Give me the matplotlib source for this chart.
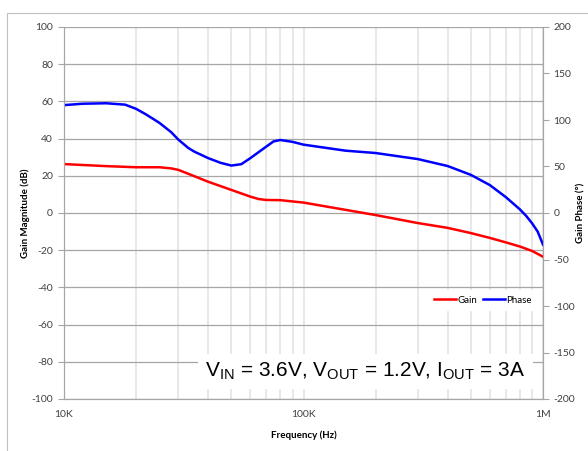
import matplotlib
matplotlib.use("Agg")
import matplotlib.pyplot as plt
import numpy as np
from matplotlib.ticker import FixedLocator, NullFormatter
from matplotlib.patches import Rectangle

plt.rcParams['font.family'] = ['Lato', 'DejaVu Sans']
plt.rcParams['axes.unicode_minus'] = False

# Gain (dB) vs frequency (Hz)
gain_freq = [10e3, 15e3, 20e3, 25e3, 28e3, 30e3, 35e3, 40e3, 50e3, 60e3, 65e3, 70e3, 80e3,
             100e3, 200e3, 300e3, 400e3, 500e3, 600e3, 700e3, 800e3, 900e3, 1e6]
gain_db = [26.3, 25.2, 24.6, 24.6, 24.0, 23.2, 19.8, 16.8, 12.4, 8.8, 7.5, 7.0, 6.9,
           5.6, -1.1, -5.4, -8.0, -10.8, -13.4, -15.8, -18.0, -20.4, -23.5]

# Phase (deg) vs frequency (Hz)
phase_freq = [10e3, 12e3, 15e3, 18e3, 20e3, 22e3, 25e3, 28e3, 30e3, 33e3, 35e3, 40e3,
              45e3, 50e3, 55e3, 60e3, 65e3, 70e3, 75e3, 80e3, 90e3, 100e3, 150e3,
              200e3, 300e3, 400e3, 500e3, 600e3, 700e3, 800e3, 850e3, 900e3, 950e3, 1e6]
phase_deg = [116, 117.5, 118, 116.5, 112, 106, 97, 87, 79, 70, 66, 59,
             54, 51, 52.5, 59, 65.5, 71.5, 77, 78.5, 76.5, 73.5, 67,
             64.5, 58, 50.5, 41, 30, 17, 4, -3, -11, -20, -34]

fig = plt.figure(figsize=(5.88, 4.51), dpi=100)
fig.patches.append(Rectangle((7 / 588, -0.01), 1.0, 1 - 13 / 451 + 0.01,
                             transform=fig.transFigure, fill=False,
                             edgecolor='#bfbfbf', linewidth=0.8))
ax = fig.add_axes([64 / 588, 1 - 399 / 451, 479 / 588, 372 / 451])
ax2 = ax.twinx()

ax.set_xscale('log')
ax.set_xlim(10e3, 1e6)
ax.set_ylim(-100, 100)
ax2.set_ylim(-200, 200)

# grid
ax.set_yticks(np.arange(-100, 101, 20))
ax.xaxis.set_major_locator(FixedLocator([1e4, 1e5, 1e6]))
ax.xaxis.set_minor_locator(FixedLocator([k * 10 ** d for d in (4, 5) for k in range(2, 10)]))
ax.xaxis.set_minor_formatter(NullFormatter())
ax.set_xticklabels(['10K', '100K', '1M'])
ax.grid(True, which='both', axis='x', color='#e4e4e4', linewidth=1.2)
ax.grid(True, which='major', axis='y', color='#a6a6a6', linewidth=0.9)
ax.set_axisbelow(True)

ax.plot(gain_freq, gain_db, color='#ff0000', linewidth=1.8, label='Gain')
ax2.plot(phase_freq, phase_deg, color='#0000ff', linewidth=1.8, label='Phase')
ax2.set_yticks(np.arange(-200, 201, 50))

for a in (ax, ax2):
    for s in a.spines.values():
        s.set_color('#a6a6a6')
    a.spines['top'].set_visible(False)
    a.tick_params(colors='#404040', labelsize=7.5, length=4, width=0.8)
    a.tick_params(axis='both', which='both', color='#a6a6a6')
ax.tick_params(axis='x', which='both', length=0, pad=8)
ax.tick_params(axis='y', pad=4)

ax.set_xlabel('Frequency (Hz)', fontsize=7, fontweight='bold', labelpad=8)
ax.set_ylabel('Gain Magnitude (dB)', fontsize=7, fontweight='bold')
ax.yaxis.set_label_coords(-0.071, 0.5)
ax2.set_ylabel('Gain Phase (°)', fontsize=7, fontweight='bold')
ax2.yaxis.set_label_coords(1.07, 0.5)

h1, l1 = ax.get_legend_handles_labels()
h2, l2 = ax2.get_legend_handles_labels()
leg = ax2.legend(h1 + h2, l1 + l2, loc='center', bbox_to_anchor=(0.875, 0.266),
                 ncol=2, fontsize=7, frameon=True, fancybox=False, handlelength=2.2,
                 handletextpad=0.2, columnspacing=0.6, borderpad=0.6)
leg.get_frame().set_edgecolor('white')
leg.get_frame().set_facecolor('white')
leg.get_frame().set_alpha(1)

ax2.text(0.295, 0.045,
         r'V$_{\mathregular{IN}}$ = 3.6V, V$_{\mathregular{OUT}}$ = 1.2V, I$_{\mathregular{OUT}}$ = 3A',
         transform=ax2.transAxes, fontsize=15, family='Liberation Sans',
         ha='left', va='bottom',
         bbox=dict(facecolor='white', edgecolor='none', pad=5))

fig.savefig('out.png', dpi=100)
